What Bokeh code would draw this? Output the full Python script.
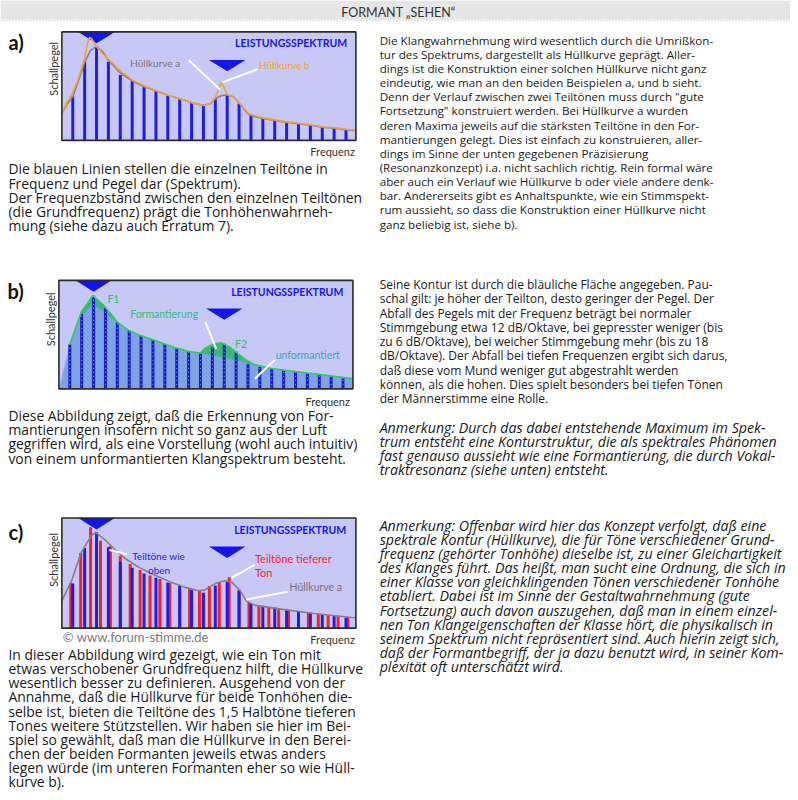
import math
from bokeh.plotting import figure
from bokeh.models import Range1d
from bokeh.core.properties import value
from bokeh.embed import file_html
from bokeh.resources import INLINE

FONT = "Lato"
BODY = "Open Sans"

# ------------------------------------------------------------------ data
harmonic_no = list(range(1, 25))
levels_a = [44.6, 79.6, 94.6, 79.6, 66.3, 60.3, 54.6, 50.3, 45.6, 42.3, 38.3, 35.3,
            42.6, 46.3, 37.3, 24.6, 22.3, 20.6, 18.6, 17.0, 15.3, 13.6, 12.3, 10.6]
levels_b = [45.0, 76.0, 94.3, 82.0, 67.5, 59.5, 54.3, 49.8, 45.3, 41.3, 37.6, 35.8,
            42.0, 45.8, 38.0, 25.6, 22.3, 20.6, 18.6, 17.0, 15.6, 14.0, 12.3, 10.6]
levels_c_upper = [44.6, 80.0, 95.7, 80.7, 66.3, 60.3, 54.6, 50.3, 45.6, 42.3, 38.3, 35.3,
                  42.6, 46.3, 37.3, 24.6, 22.3, 20.6, 18.6, 17.0, 15.3, 13.6, 12.3, 10.6]
lower_no = list(range(1, 30))
lower_f0 = 0.8333          # tieferer Ton (as drawn)
levels_c_lower = [45.0, 75.0, 100.7, 87.3, 82.0, 72.0, 64.0, 58.0, 52.5, 49.0, 45.0, 41.5,
                  39.0, 37.5, 42.0, 46.0, 50.7, 38.5, 26.0, 22.5, 21.0, 19.3, 18.0, 16.5,
                  15.3, 14.2, 13.0, 12.0, 11.0]

# envelopes (frequency in units of the upper tone's f0, level)
hull_a_f = [0.08, 0.5, 1.0, 1.5, 2.0, 2.5, 3.0, 3.5, 4.0, 5.0, 6.0, 7.0, 8.0, 9.0, 10.0,
            11.0, 12.0, 12.6, 13.0, 13.5, 14.0, 14.5, 15.0, 15.5, 15.8, 16.25, 17.0, 18.0,
            19.0, 20.0, 21.0, 22.0, 23.0, 24.0, 24.83]
hull_a_L = [27.3, 36.3, 44.3, 61.3, 79.3, 91.3, 95.3, 90.3, 81.3, 68.3, 60.3, 54.3, 50.3,
            45.8, 42.3, 38.3, 35.3, 37.3, 42.3, 45.3, 46.3, 44.3, 38.3, 30.3, 26.3, 24.3,
            22.3, 20.3, 18.3, 16.8, 15.3, 13.3, 12.3, 10.8, 9.8]
hull_b_f = [0.08, 0.5, 1.0, 1.5, 2.0, 2.25, 2.42, 2.58, 2.83, 3.0, 3.5, 4.0, 5.0, 6.0, 7.0,
            8.0, 9.0, 10.0, 11.0, 12.0, 12.6, 13.0, 13.25, 13.5, 13.75, 14.0, 14.5, 15.0,
            15.5, 15.8, 16.25, 17.0, 18.0, 19.0, 20.0, 21.0, 22.0, 23.0, 24.0, 24.83]
hull_b_L = [27.3, 38.3, 48.3, 63.3, 83.3, 99.3, 104.3, 103.3, 98.3, 95.3, 88.3, 82.3, 70.3,
            61.3, 55.3, 50.3, 45.8, 42.3, 38.3, 35.3, 37.3, 43.3, 51.3, 59.3, 53.3, 46.3,
            44.3, 38.3, 31.3, 27.3, 25.3, 22.8, 20.8, 18.8, 17.3, 15.8, 13.8, 12.8, 11.3, 10.3]

formant_env_f = [1.0, 1.97, 2.94, 3.92, 5.03, 6.0, 6.97, 7.94, 9.0, 9.97, 11.0, 11.97,
                 12.39, 13.08, 13.78, 14.48, 15.17, 15.86, 16.56, 17.94, 20.17, 22.39,
                 24.75, 24.83]
formant_env_L = [45.0, 78.0, 94.6, 84.0, 67.3, 59.0, 54.0, 50.0, 45.6, 41.3, 38.0, 36.3,
                 41.3, 45.6, 46.6, 42.3, 35.6, 29.0, 24.6, 20.6, 17.3, 14.0, 10.6, 10.4]
plain_env_f = [0.08, 1.0, 1.83, 2.5, 3.0, 3.6, 4.3, 5.03, 6.0, 6.97, 7.94, 9.0, 9.97, 11.0,
               11.97, 14.0, 16.0, 16.56, 17.94, 20.17, 22.39, 24.75, 24.83]
plain_env_L = [0.0, 45.0, 72.0, 81.0, 85.0, 81.0, 73.5, 67.3, 59.0, 54.0, 50.0, 45.6,
               41.3, 38.0, 36.3, 31.5, 26.5, 24.6, 20.6, 17.3, 14.0, 10.6, 10.4]

hull_c_f = [0.08, 0.9, 1.72, 2.56, 2.92, 3.8, 4.5, 5.47, 6.58, 7.7, 9.1, 10.5, 11.6, 12.1,
            13.0, 13.8, 14.4, 15.1, 15.6, 16.3, 18.5, 21.3, 24.5, 24.83]
hull_c_L = [27.3, 47.3, 75.7, 92.3, 95.7, 87.3, 79.0, 69.0, 60.7, 54.0, 46.7, 40.7, 37.3,
            38.0, 44.7, 47.3, 45.7, 37.3, 27.3, 23.0, 19.0, 14.7, 10.7, 10.3]

formant_centres = [3.0, 14.0]
formant_marker_top = [110.0, 81.5]

F_MIN, F_MAX = 0.0833, 24.8333
L_MIN, L_MAX = 0.0, 110.0

# ------------------------------------------------------------------ style
LAVENDER = "#c8c8f6"
BAR_BLUE = "#1c1cf0"
TRI_BLUE = "#1414ee"
GREY_ENV = "#8a7e86"
ORANGE = "#f4a02c"
GREEN_LINE = "#2ccf58"
GREEN_FILL = "#3bb774"
AREA_BLUE = "#7ea4e2"
RED = "#ff1c1c"
TEXT = "#1a1a1a"

# the page is laid out on a 798 x 800 grid, shown in a 790 x 792 figure
PAGE_X0, PAGE_X1, PAGE_Y0, PAGE_Y1 = 0, 798, 0, 800

p = figure(width=790, height=792, x_range=Range1d(PAGE_X0, PAGE_X1),
           y_range=Range1d(PAGE_Y1, PAGE_Y0), x_axis_location=None, y_axis_location=None,
           toolbar_location=None, output_backend="svg", min_border=0,
           outline_line_color=None, background_fill_color="white",
           border_fill_color="white")
p.grid.grid_line_color = None

# panel frames on the page grid
PANELS = {"a": (62, 359, 31.7, 141.3), "b": (59, 356, 282.7, 392.3), "c": (62, 359, 522.7, 634)}
for name, (left, right, top, bottom) in PANELS.items():
    sx = (right - left) / (F_MAX - F_MIN)
    sy = (bottom - top) / (L_MAX - L_MIN)
    p.extra_x_ranges[name] = Range1d(F_MIN + (PAGE_X0 - left) / sx, F_MIN + (PAGE_X1 - left) / sx)
    p.extra_y_ranges[name] = Range1d(L_MIN - (PAGE_Y1 - bottom) / sy, L_MAX + (top - PAGE_Y0) / sy)


def rk(name):
    return dict(x_range_name=name, y_range_name=name)


def txt(x, y, s, size="13px", color=TEXT, style="normal", align="left", angle=0.0, font=FONT):
    p.text(x=[x], y=[y], text=[s], text_font=value(font), text_font_size=size,
           text_font_style=style, text_color=color, text_align=align,
           text_baseline="middle", angle=angle)


def para(lines, x, y0, dy, style="normal", size="13px", font=BODY):
    p.text(x=[x] * len(lines), y=[y0 + i * dy for i in range(len(lines))], text=lines,
           text_font=value(font), text_font_size=size, text_font_style=style,
           text_color=TEXT, text_align="left", text_baseline="middle")


def frame(name):
    p.quad(left=[F_MIN], right=[F_MAX], bottom=[L_MIN], top=[L_MAX], fill_color=LAVENDER,
           line_color=None, **rk(name))


def border(name):
    p.quad(left=[F_MIN], right=[F_MAX], bottom=[L_MIN], top=[L_MAX], fill_color=None,
           line_color="#2b2b2b", line_width=1.6, **rk(name))


def markers(name):
    xs = [[f - 1.54, f + 1.54, f] for f in formant_centres]
    ys = [[t, t, t - 11.5] for t in formant_marker_top]
    p.patches(xs=xs, ys=ys, fill_color=TRI_BLUE, line_color=None, **rk(name))


def white_line(x0, y0, x1, y1):
    p.segment(x0=[x0], y0=[y0], x1=[x1], y1=[y1], line_color="white", line_width=2)


LEFT_SIZE = "13.9px"
RIGHT_SIZE_A = "11.65px"
RIGHT_SIZE_B = "12px"
ITALIC_SIZE = "14.2px"

# ------------------------------------------------------------------ header
p.quad(left=[PAGE_X0], right=[PAGE_X1], top=[PAGE_Y0], bottom=[19.5], fill_color="#e6e6e6",
       line_color=None)
p.segment(x0=[PAGE_X0], y0=[20.5], x1=[PAGE_X1], y1=[20.5], line_color="#b5b5b5",
          line_width=1, line_dash="1 2")
txt(402, 12, "FORMANT „SEHEN“", size="12.5px", color="#333333", align="center")

# ------------------------------------------------------------------ panel a
frame("a")
markers("a")
p.vbar(x=harmonic_no, top=levels_a, bottom=0, width=0.25, fill_color=BAR_BLUE,
       line_color=None, **rk("a"))
p.line(hull_a_f, hull_a_L, line_color=GREY_ENV, line_width=1.6, **rk("a"))
p.line(hull_b_f, hull_b_L, line_color=ORANGE, line_width=1.6, **rk("a"))
border("a")
white_line(190, 60, 221.7, 90)
white_line(260, 69.3, 224, 82.7)
txt(237, 43, "LEISTUNGSSPEKTRUM", size="10.5px", color=TRI_BLUE, style="bold")
txt(131, 63, "Hüllkurve a", size="10px", color="#7d7179")
txt(261, 65, "Hüllkurve b", size="10px", color=ORANGE)
txt(8, 42, "a)", size="20px", style="bold", color="#111111")
txt(54, 69, "Schallpegel", size="11px", color="#333333", align="center", angle=math.pi / 2)
txt(358, 153, "Frequenz", size="11px", color="#333333", align="right")

para(["Die blauen Linien stellen die einzelnen Teiltöne in",
      "Frequenz und Pegel dar (Spektrum).",
      "Der Frequenzbstand zwischen den einzelnen Teiltönen",
      "(die Grundfrequenz) prägt die Tonhöhenwahrneh-",
      "mung (siehe dazu auch Erratum 7)."], 8, 170, 14.4, size=LEFT_SIZE)
para(["Die Klangwahrnehmung wird wesentlich durch die Umrißkon-",
      "tur des Spektrums, dargestellt als Hüllkurve geprägt. Aller-",
      "dings ist die Konstruktion einer solchen Hüllkurve nicht ganz",
      "eindeutig, wie man an den beiden Beispielen a, und b sieht.",
      "Denn der Verlauf zwischen zwei Teiltönen muss durch \"gute",
      "Fortsetzung\" konstruiert werden. Bei Hüllkurve a wurden",
      "deren Maxima jeweils auf die stärksten Teiltöne in den For-",
      "mantierungen gelegt.  Dies ist einfach zu konstruieren, aller-",
      "dings im Sinne der unten gegebenen Präzisierung",
      "(Resonanzkonzept) i.a. nicht sachlich richtig. Rein formal wäre",
      "aber auch ein Verlauf wie Hüllkurve b oder viele andere denk-",
      "bar. Andererseits gibt es Anhaltspunkte, wie ein Stimmspekt-",
      "rum aussieht,  so dass die Konstruktion einer Hüllkurve nicht",
      "ganz beliebig ist, siehe b)."], 383, 40, 14.3, size=RIGHT_SIZE_A)

# ------------------------------------------------------------------ panel b
frame("b")
markers("b")
p.patch(formant_env_f + [F_MAX, formant_env_f[0]], formant_env_L + [0, 0],
        fill_color=GREEN_FILL, line_color=None, **rk("b"))
p.patch(plain_env_f + [F_MAX], plain_env_L + [0], fill_color=AREA_BLUE, line_color=None,
        **rk("b"))
p.vbar(x=harmonic_no, top=levels_b, bottom=0, width=0.25, fill_color="#1818d2",
       line_color=None, **rk("b"))
p.segment(x0=harmonic_no, y0=[0] * len(levels_b), x1=harmonic_no, y1=levels_b,
          line_color="#8aa8ff", line_width=1, line_dash="1 3", **rk("b"))
p.line(formant_env_f, formant_env_L, line_color=GREEN_LINE, line_width=1.6, **rk("b"))
border("b")
white_line(207, 325, 218, 352)
white_line(277, 363, 257, 382)
txt(233, 294, "LEISTUNGSSPEKTRUM", size="10.5px", color=TRI_BLUE, style="bold")
txt(108, 302, "F1", size="10.5px", color="#2fbf6a")
txt(131, 317, "Formantierung", size="10.5px", color="#2fbf6a")
txt(237, 347, "F2", size="10.5px", color="#2fbf6a")
txt(278, 358, "unformantiert", size="10.5px", color="#3aa3b8")
txt(7, 293.5, "b)", size="20px", style="bold", color="#111111")
txt(51, 322, "Schallpegel", size="11px", color="#333333", align="center", angle=math.pi / 2)
txt(353, 405, "Frequenz", size="11px", color="#333333", align="right")

para(["Diese Abbildung zeigt, daß die Erkennung von For-",
      "mantierungen insofern nicht so ganz aus der Luft",
      "gegriffen wird, als eine Vorstellung (wohl auch intuitiv)",
      "von einem unformantierten Klangspektrum besteht."], 8, 419, 14.4, size=LEFT_SIZE)
para(["Seine Kontur ist durch die bläuliche Fläche angegeben. Pau-",
      "schal gilt: je höher der Teilton, desto geringer der Pegel. Der",
      "Abfall des Pegels mit der Frequenz beträgt bei normaler",
      "Stimmgebung etwa 12 dB/Oktave, bei gepresster weniger (bis",
      "zu 6 dB/Oktave), bei weicher Stimmgebung mehr (bis zu 18",
      "dB/Oktave). Der Abfall bei tiefen Frequenzen ergibt sich darus,",
      "daß diese vom Mund weniger gut abgestrahlt werden",
      "können, als die hohen. Dies spielt besonders bei tiefen Tönen",
      "der Männerstimme eine Rolle."], 383, 287, 14.4, size=RIGHT_SIZE_B)
para(["Anmerkung: Durch das dabei entstehende Maximum im Spek-",
      "trum entsteht eine Konturstruktur, die als spektrales Phänomen",
      "fast genauso aussieht wie eine Formantierung, die durch Vokal-",
      "traktresonanz (siehe unten) entsteht."], 383, 431, 14.4, style="italic",
     size=ITALIC_SIZE)

# ------------------------------------------------------------------ panel c
frame("c")
markers("c")
lower_f = [lower_f0 * n for n in lower_no]
p.vbar(x=lower_f, top=levels_c_lower, bottom=0, width=0.25, fill_color=RED,
       line_color=None, **rk("c"))
p.vbar(x=harmonic_no, top=levels_c_upper, bottom=0, width=0.25, fill_color=BAR_BLUE,
       line_color=None, **rk("c"))
p.line(hull_c_f, hull_c_L, line_color=GREY_ENV, line_width=1.6, **rk("c"))
border("c")
white_line(110, 555, 128, 559.3)
white_line(256.7, 570, 233.3, 583.3)
white_line(290, 597.3, 248.3, 605)
txt(236, 535, "LEISTUNGSSPEKTRUM", size="10.5px", color=TRI_BLUE, style="bold")
txt(133, 561, "Teiltöne wie", size="10px", color=BAR_BLUE)
txt(149, 575.5, "oben", size="10px", color=BAR_BLUE)
txt(257, 563.5, "Teiltöne tieferer", size="11px", color=RED)
txt(257, 578, "Ton", size="11px", color=RED)
txt(292, 592.5, "Hüllkurve a", size="10.5px", color="#7d7179")
txt(63, 642.5, "© www.forum-stimme.de", size="13px", color="#7a7a7a")
txt(8, 536.5, "c)", size="20px", style="bold", color="#111111")
txt(54, 565, "Schallpegel", size="11px", color="#333333", align="center", angle=math.pi / 2)
txt(358, 645, "Frequenz", size="11px", color="#333333", align="right")

para(["In dieser Abbildung wird gezeigt, wie ein Ton mit",
      "etwas verschobener Grundfrequenz hilft, die Hüllkurve",
      "wesentlich besser zu definieren. Ausgehend von der",
      "Annahme, daß die Hüllkurve für beide Tonhöhen die-",
      "selbe ist, bieten die Teiltöne des 1,5 Halbtöne tieferen",
      "Tones weitere Stützstellen. Wir haben sie hier im Bei-",
      "spiel so gewählt, daß man die Hüllkurve in den Berei-",
      "chen der beiden Formanten jeweils etwas anders",
      "legen würde (im unteren Formanten eher so wie Hüll-",
      "kurve b)."], 8, 660.5, 14.3, size=LEFT_SIZE)
para(["Anmerkung:  Offenbar wird hier das Konzept verfolgt,  daß eine",
      "spektrale Kontur (Hüllkurve), die für Töne verschiedener Grund-",
      "frequenz (gehörter Tonhöhe) dieselbe ist,  zu einer Gleichartigkeit",
      "des Klanges führt.  Das heißt, man sucht eine Ordnung, die sich in",
      "einer Klasse von gleichklingenden Tönen verschiedener Tonhöhe",
      "etabliert. Dabei ist im Sinne der Gestaltwahrnehmung (gute",
      "Fortsetzung) auch davon auszugehen, daß man in einem einzel-",
      "nen Ton Klangeigenschaften der Klasse hört, die physikalisch in",
      "seinem Spektrum nicht repräsentiert sind.  Auch hierin zeigt sich,",
      "daß der Formantbegriff, der ja dazu benutzt wird, in seiner Kom-",
      "plexität oft unterschätzt wird."], 383, 530, 14.3, style="italic", size=ITALIC_SIZE)

open("out.html", "w").write(file_html(p, INLINE))
